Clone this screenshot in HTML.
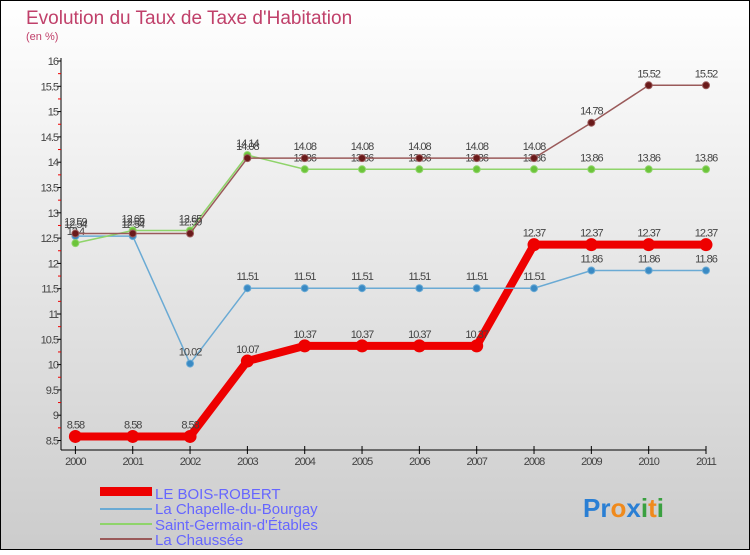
<!DOCTYPE html>
<html><head><meta charset="utf-8"><style>
body{margin:0}
svg text{font-family:"Liberation Sans",sans-serif}
</style></head><body>
<svg width="750" height="550" xmlns="http://www.w3.org/2000/svg">
<defs><linearGradient id="bg" x1="0" y1="0" x2="0" y2="1"><stop offset="0" stop-color="#ffffff"/><stop offset="1" stop-color="#cccccc"/></linearGradient></defs>
<rect x="0.5" y="0.5" width="749" height="549" fill="url(#bg)" stroke="#000"/>
<text x="26" y="24" font-size="19" fill="#c0406a">Evolution du Taux de Taxe d'Habitation</text>
<text x="26" y="40" font-size="11" fill="#c0406a">(en %)</text>
<g id="axes"></g><g id="series"></g>
<g>
<rect x="100" y="487" width="52" height="9" fill="#e00"/>
<text x="155" y="499" font-size="15" fill="#6666ff">LE BOIS-ROBERT</text>
<rect x="100" y="508" width="52" height="2" fill="#6aaad4"/>
<text x="155" y="514" font-size="15" fill="#6666ff">La Chapelle-du-Bourgay</text>
<rect x="100" y="523" width="52" height="2" fill="#8fd46a"/>
<text x="155" y="530" font-size="15" fill="#6666ff">Saint-Germain-d'Étables</text>
<rect x="100" y="538" width="52" height="2" fill="#9a5a5a"/>
<text x="155" y="545" font-size="15" fill="#6666ff">La Chaussée</text>
</g>
<g font-size="26" font-weight="bold">
<text x="583" y="517"><tspan fill="#2a7fd4">Pr</tspan><tspan fill="#f08a1c">o</tspan><tspan fill="#2a7fd4">x</tspan><tspan fill="#3aa040">i</tspan><tspan fill="#f08a1c">t</tspan><tspan fill="#3aa040">i</tspan></text>
</g>
</svg>
<script>
const years=[2000,2001,2002,2003,2004,2005,2006,2007,2008,2009,2010,2011];
const yTicks=[8.5,9,9.5,10,10.5,11,11.5,12,12.5,13,13.5,14,14.5,15,15.5,16];
const boisRobert=[8.58,8.58,8.58,10.07,10.37,10.37,10.37,10.37,12.37,12.37,12.37,12.37];
const chapelle=[12.54,12.54,10.02,11.51,11.51,11.51,11.51,11.51,11.51,11.86,11.86,11.86];
const saintGermain=[12.4,12.65,12.65,14.14,13.86,13.86,13.86,13.86,13.86,13.86,13.86,13.86];
const chaussee=[12.59,12.59,12.59,14.08,14.08,14.08,14.08,14.08,14.08,14.78,15.52,15.52];
const NS='http://www.w3.org/2000/svg';
const xS=i=>75.4+i*(706-75.4)/11;
const yS=v=>61+(16-v)*50.6;
function mk(tag,attrs,parent){const e=document.createElementNS(NS,tag);for(const k in attrs)e.setAttribute(k,attrs[k]);parent.appendChild(e);return e;}
const ax=document.getElementById('axes');
let l=mk('line',{x1:61,y1:58,x2:61,y2:450,stroke:'#000'},ax);


l=mk('line',{x1:61,y1:450,x2:706,y2:450,stroke:'#000'},ax);


yTicks.forEach(v=>{
  mk('line',{x1:57,y1:yS(v),x2:61,y2:yS(v),stroke:'#000'},ax);
  if(v<16) mk('line',{x1:58,y1:yS(v+0.25),x2:61,y2:yS(v+0.25),stroke:'#e00'},ax);
  const t=mk('text',{x:58,y:yS(v)+4,'font-size':11,fill:'#444','text-anchor':'end','letter-spacing':'-1'},ax);
  t.textContent=String(v);
  
  
});
years.forEach((y,i)=>{
  mk('line',{x1:xS(i),y1:446,x2:xS(i),y2:454,stroke:'#000'},ax);
  const t=mk('text',{x:xS(i),y:465,'font-size':11,fill:'#444','text-anchor':'middle','letter-spacing':'-1'},ax);
  t.textContent=String(y);
  
  
});
const sg=document.getElementById('series');
function series(data,color,dot,w,r,name){
  const g=mk('g',{},sg);
  
  
  mk('polyline',{points:data.map((v,i)=>xS(i)+','+yS(v)).join(' '),fill:'none',stroke:color,'stroke-width':w},g);
  data.forEach((v,i)=>{
    const c=mk('circle',{cx:xS(i),cy:yS(v),r:r,fill:dot,stroke:color,'stroke-width':1},g);
    
    
    const t=mk('text',{x:xS(i),y:yS(v)-8,'font-size':11,fill:'#444','text-anchor':'middle','letter-spacing':'-1'},g);
    t.textContent=String(v);
    
    
  });
}
series(boisRobert,'#e00','#e00',8,6,'series-bois-robert');
series(chapelle,'#6aaad4','#3a8ac4',1.5,3.5,'series-chapelle');
series(saintGermain,'#8fd46a','#6cc43a',1.5,3.5,'series-saint-germain');
series(chaussee,'#9a5a5a','#6a1a1a',1.5,3.5,'series-chaussee');
</script>
</body></html>
